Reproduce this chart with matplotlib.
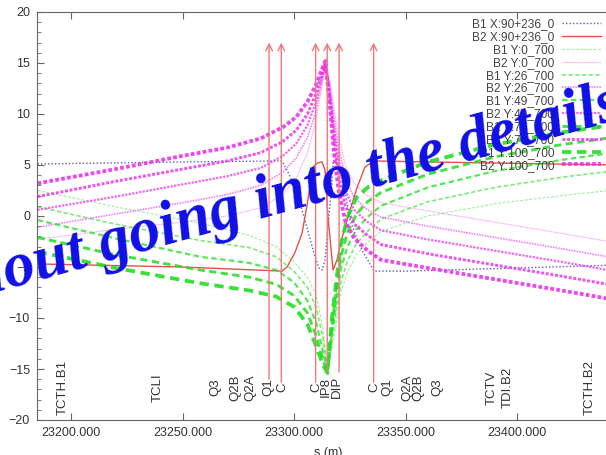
import matplotlib
matplotlib.use("Agg")
from matplotlib import pyplot as plt
from matplotlib.ticker import MultipleLocator, FormatStrFormatter

plt.rcParams['font.family'] = ['Liberation Sans', 'DejaVu Sans']

##### data
# B1 X:90+236_0 (blue dotted)
s_b1x = [23185, 23250, 23294.6, 23297.3, 23301.3, 23305.8, 23309.4, 23311.2, 23312.6, 23313.9,
         23315.2, 23317.0, 23317.5, 23319.3, 23322, 23325.1, 23329.6, 23335.9, 23350, 23400, 23446]
y_b1x = [5.1, 5.3, 5.4, 4.3, 2.3, -1.1, -4.0, -5.1, -5.3, -4.3,
         -1.1, 3.2, 5.2, 5.2, 3.5, -0.4, -3.0, -5.4, -5.4, -5.1, -4.8]

# B2 X:90+236_0 (red solid)
s_b2x = [23185, 23250, 23294.6, 23296.9, 23300.4, 23303.6, 23305.8, 23308.5, 23310.5, 23312.6,
         23313.9, 23315.2, 23317.5, 23319.3, 23321.1, 23323.8, 23328.3, 23331.8, 23335.9, 23360, 23446]
y_b2x = [-4.7, -5.0, -5.4, -5.0, -3.6, -1.7, 1.0, 4.8, 5.2, 5.3,
         4.5, 0.0, -5.3, -4.3, -2.5, -0.4, 2.8, 4.8, 5.4, 5.3, 5.0]

# B2 Y:* (magenta), common s grid
s_mag = [23185, 23220, 23250, 23270, 23285, 23295, 23301, 23306, 23309.5, 23312, 23314,
         23316, 23318, 23320, 23323, 23327, 23333, 23339, 23360, 23390, 23420, 23446]
b2y_0 = [-2.3, -1.3, -0.6, 0.0, 0.8, 2.1, 3.7, 6.2, 9.0, 12.0, 14.6,
         13.3, 10.5, 7.8, 5.0, 3.2, 2.0, 1.3, 0.5, -0.6, -1.7, -2.7]
b2y_26 = [-1.1, 0.2, 1.3, 2.1, 3.0, 4.3, 5.7, 7.7, 10.0, 12.6, 14.8,
          12.8, 9.5, 6.7, 3.8, 1.8, 0.6, -0.1, -1.0, -2.1, -3.2, -4.2]
b2y_49 = [0.6, 1.9, 3.1, 3.9, 4.7, 5.9, 7.1, 8.9, 10.9, 13.1, 14.9,
          12.3, 8.5, 5.5, 2.5, 0.6, -0.6, -1.4, -2.3, -3.4, -4.5, -5.5]
b2y_75 = [1.9, 3.4, 4.6, 5.4, 6.2, 7.3, 8.4, 10.0, 11.8, 13.6, 15.0,
          11.8, 7.5, 4.0, 1.0, -0.8, -1.9, -2.8, -3.7, -4.8, -5.9, -6.9]
b2y_100 = [3.2, 4.6, 5.9, 6.7, 7.6, 8.7, 9.7, 11.2, 12.7, 14.1, 15.2,
           11.0, 6.0, 2.5, -0.5, -2.2, -3.4, -4.3, -5.1, -6.2, -7.3, -8.3]

# B1 Y:* (green), common s grid
s_grn = [23185, 23220, 23258, 23280, 23292, 23300, 23306, 23310, 23313, 23315, 23317,
         23319, 23321, 23324, 23328, 23333, 23339, 23360, 23390, 23420, 23446]
b1y_0 = [2.5, 0.9, -0.7, -1.9, -3.0, -4.5, -6.0, -7.8, -11.0, -15.0, -13.0,
         -10.5, -7.5, -5.5, -3.8, -2.6, -1.5, 0.0, 1.2, 2.0, 2.6]
b1y_26 = [0.9, -0.8, -2.4, -3.1, -4.0, -5.4, -7.0, -9.0, -12.0, -15.1, -12.2,
          -9.3, -6.5, -4.4, -2.7, -1.5, -0.3, 1.4, 2.8, 3.8, 4.5]
b1y_49 = [-0.4, -2.2, -4.0, -4.6, -5.3, -6.5, -8.3, -10.5, -13.3, -15.2, -11.5,
          -8.2, -5.2, -3.0, -1.3, -0.1, 1.0, 2.8, 4.4, 5.5, 6.3]
b1y_75 = [-2.1, -3.8, -5.3, -6.0, -6.7, -7.8, -9.5, -11.8, -14.1, -15.3, -10.8,
          -7.2, -4.0, -1.6, 0.2, 1.4, 2.3, 4.1, 5.8, 7.0, 7.8]
b1y_100 = [-3.5, -5.1, -6.6, -7.3, -7.9, -8.9, -10.6, -12.8, -14.6, -15.4, -10.0,
           -6.3, -2.8, -0.1, 1.8, 2.8, 3.5, 5.3, 7.0, 8.2, 9.0]

# element names along the beam line
elem_names = ['TCTH.B1', 'TCLI', 'Q3', 'Q2B', 'Q2A', 'Q1', 'C', 'C', 'IP8', 'DIP',
              'C', 'Q1', 'Q2A', 'Q2B', 'Q3', 'TCTV', 'TDI.B2', 'TCTH.B2']
elem_s = [23196.4, 23239.0, 23264.6, 23273.5, 23280.3, 23288.3, 23294.6, 23309.9, 23314.3, 23319.3,
          23335.9, 23341.7, 23350.7, 23355.6, 23364.1, 23388.8, 23396.0, 23432.7]

# vertical markers (arrows)
arrow_s = [23288.8, 23294.3, 23309.7, 23314.9, 23320.2, 23335.7]
arrow_y0 = [-16.0, -16.3, -16.3, -15.3, -15.3, -16.3]
arrow_y1 = 17.0

##### figure
fig = plt.figure(figsize=(6.06, 4.55), dpi=100)
x_lo, x_hi = 23184.75, 23446
ax = fig.add_axes([37/606, 35/455, (x_hi - x_lo) * 2.23 / 606, (420-12)/455])

blue = '#5a5ac8'
red = '#e8504a'
green = '#22dd22'
pink = '#ee33ee'

ax.plot(s_b1x, y_b1x, color=blue, lw=1.0, ls=(0, (1, 1.5)), label='B1 X:90+236_0')
ax.plot(s_b2x, y_b2x, color=red, lw=1.0, label='B2 X:90+236_0')

series = [
    ('0_700', b1y_0, b2y_0, 0.8, 0.45),
    ('26_700', b1y_26, b2y_26, 1.2, 0.6),
    ('49_700', b1y_49, b2y_49, 1.6, 0.75),
    ('75_700', b1y_75, b2y_75, 2.1, 0.85),
    ('100_700', b1y_100, b2y_100, 2.7, 0.9),
]
for name, g, m, lw, a in series:
    ax.plot(s_grn, g, color=green, lw=lw, alpha=a, ls=(0, (2.5, 1.5)), label='B1 Y:' + name)
    ax.plot(s_mag, m, color=pink, lw=lw, alpha=a, ls=(0, (1, 0.6)), label='B2 Y:' + name)

for s, y0 in zip(arrow_s, arrow_y0):
    ax.annotate('', xy=(s, arrow_y1), xytext=(s, y0),
                arrowprops=dict(arrowstyle='->', color='#f07878', lw=1.0,
                                shrinkA=0, shrinkB=0, mutation_scale=12))

for name, s in zip(elem_names, elem_s):
    ax.text(s, -16.8, name, rotation=90, ha='center', va='center',
            fontsize=9.5, color='#333333')

ax.set_xlim(x_lo, x_hi)
ax.set_ylim(-20, 20)
ax.xaxis.set_major_locator(MultipleLocator(50))
ax.xaxis.set_major_formatter(FormatStrFormatter('%.3f'))
ax.yaxis.set_major_locator(MultipleLocator(5))
ax.yaxis.set_minor_locator(MultipleLocator(1))
ax.tick_params(which='both', direction='in', top=True, right=True,
               color='#666666', labelcolor='#333333', labelsize=9)
ax.tick_params(which='major', length=5, pad=5)
ax.tick_params(which='minor', length=3)
for sp in ax.spines.values():
    sp.set_color('#666666')
ax.set_xlabel('s (m)', fontsize=9, color='#333333', labelpad=6)

leg = ax.legend(loc='upper right', bbox_to_anchor=(603/606, 1 - 16/455),
                bbox_transform=fig.transFigure, frameon=False, markerfirst=False,
                fontsize=8.6, labelspacing=0.07, handlelength=3.2, handletextpad=0.7,
                borderpad=0.2, borderaxespad=0)
for t in leg.get_texts():
    t.set_color('#444444')

# watermark text over the figure
fig.text(624/606, 1 - 118/455, 'Without going into the details', color='#1010e6',
         fontsize=45, fontweight='bold', fontstyle='italic', family='Liberation Serif',
         rotation=15.5, rotation_mode='anchor', ha='right', va='baseline')

fig.savefig('out.png', dpi=100)
